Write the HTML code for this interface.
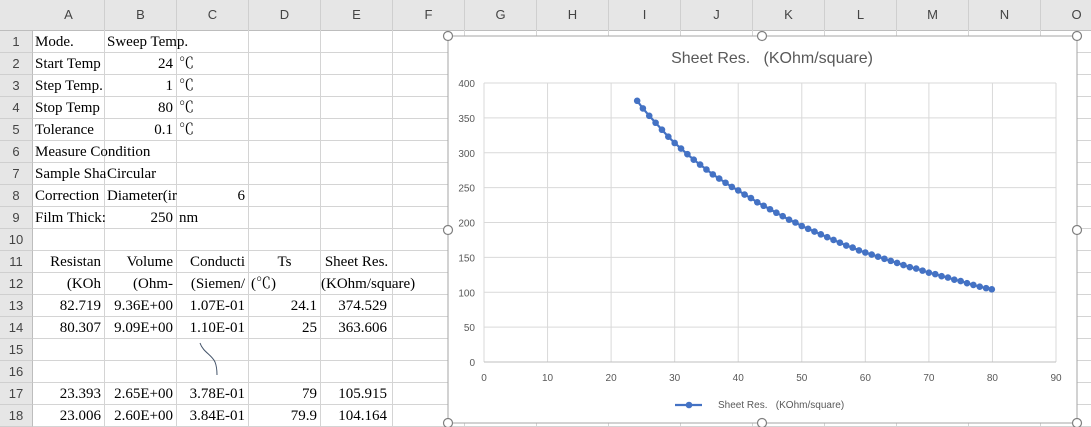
<!DOCTYPE html>
<html><head><meta charset="utf-8">
<style>
body{margin:0;width:1091px;height:427px;overflow:hidden;background:#fff;position:relative;font-family:"Liberation Serif","Noto Serif CJK SC",serif;}
.c{position:absolute;font-size:15px;color:#000;white-space:nowrap;line-height:22px;}
.h{position:absolute;background:#e6e6e6;font-family:"Liberation Sans",sans-serif;font-size:13px;color:#444;text-align:center;}
</style></head><body>
<div id="sheet"></div>
<svg id="chart" width="1091" height="427" style="position:absolute;left:0;top:0"></svg>
<script>
const temps=[24.1,25,26,27,28,29,30,31,32,33,34,35,36,37,38,39,40,41,42,43,44,45,46,47,48,49,50,51,52,53,54,55,56,57,58,59,60,61,62,63,64,65,66,67,68,69,70,71,72,73,74,75,76,77,78,79,79.9];
const sheetRes=[374.5,363.6,353,343,333,323,314,306,298,290,283,276,269,263,257,251,246,240,235,229,224,219,214,209,204,200,195,191,187,183,179,175,171,167,164,160,157,154,151,148,145,142,139,136,134,131,128,126,123,121,118,116,113,110.5,108,105.9,104.2];
const xTicks=[0,10,20,30,40,50,60,70,80,90];
const yTicks=[0,50,100,150,200,250,300,350,400];
const sh=document.getElementById('sheet');
const colL=[33,105,177,249,321,393,465,537,609,681,753,825,897,969,1041,1113];
const letters=['A','B','C','D','E','F','G','H','I','J','K','L','M','N','O'];
function rowTop(r){return 31+(r-1)*22;}
let hd=document.createElement('div');hd.className='h';hd.style.cssText='left:0;top:0;width:1091px;height:30px;border-bottom:1px solid #bdbdbd';


sh.appendChild(hd);
for(let i=0;i<letters.length;i++){const d=document.createElement('div');d.className='h';
d.style.cssText=`left:${colL[i]}px;top:0;width:${colL[i+1]-colL[i]-1}px;height:30px;line-height:30px;border-right:1px solid #cfcfcf`;
d.textContent=letters[i];


sh.appendChild(d);}
for(let r=1;r<=18;r++){const d=document.createElement('div');d.className='h';
d.style.cssText=`left:0;top:${rowTop(r)}px;width:32px;height:21px;line-height:22px;border-bottom:1px solid #cfcfcf;border-right:1px solid #bdbdbd`;
d.textContent=r;


sh.appendChild(d);}
for(let i=1;i<colL.length;i++){const g=document.createElement('div');g.style.cssText=`position:absolute;left:${colL[i]-1}px;top:30px;width:1px;height:397px;background:#d4d4d4`;


sh.appendChild(g);}
for(let r=1;r<=18;r++){const g=document.createElement('div');g.style.cssText=`position:absolute;left:33px;top:${rowTop(r)+21}px;width:1060px;height:1px;background:#d4d4d4`;


sh.appendChild(g);}
const cells=[
[1,0,'Mode.','l'],[1,1,'Sweep Temp.','l'],
[2,0,'Start Temp','l'],[2,1,'24','r'],[2,2,'℃','l'],
[3,0,'Step Temp.','l'],[3,1,'1','r'],[3,2,'℃','l'],
[4,0,'Stop Temp','l'],[4,1,'80','r'],[4,2,'℃','l'],
[5,0,'Tolerance','l'],[5,1,'0.1','r'],[5,2,'℃','l'],
[6,0,'Measure Condition','l'],
[7,0,'Sample Sha','l'],[7,1,'Circular','l'],
[8,0,'Correction','l'],[8,1,'Diameter(ir','l'],[8,2,'6','r'],
[9,0,'Film Thick:','l'],[9,1,'250','r'],[9,2,'nm','l'],
[11,0,'Resistan','r'],[11,1,'Volume','r'],[11,2,'Conducti','r'],[11,3,'Ts','m'],[11,4,'Sheet Res.','m'],
[12,0,'(KOh','r'],[12,1,'(Ohm-','r'],[12,2,'(Siemen/','r'],[12,3,'(℃)','l'],[12,4,'(KOhm/square)','m'],
[13,0,'82.719','r'],[13,1,'9.36E+00','r'],[13,2,'1.07E-01','r'],[13,3,'24.1','r'],[13,4,'374.529','r2'],
[14,0,'80.307','r'],[14,1,'9.09E+00','r'],[14,2,'1.10E-01','r'],[14,3,'25','r'],[14,4,'363.606','r2'],
[17,0,'23.393','r'],[17,1,'2.65E+00','r'],[17,2,'3.78E-01','r'],[17,3,'79','r'],[17,4,'105.915','r2'],
[18,0,'23.006','r'],[18,1,'2.60E+00','r'],[18,2,'3.84E-01','r'],[18,3,'79.9','r'],[18,4,'104.164','r2']];
cells.forEach(([r,c,t,a])=>{const d=document.createElement('div');d.className='c';
const L=colL[c],R=colL[c+1]-1,top=rowTop(r);
if(a==='l'){d.style.left=(L+2)+'px';}
else if(a==='r'){d.style.right=(1091-R+3)+'px';}
else if(a==='r2'){d.style.right=(1091-R+5)+'px';}
else {d.style.left=L+'px';d.style.width=(R-L)+'px';d.style.textAlign='center';}
d.style.top=top+'px';
d.textContent=t;


sh.appendChild(d);});
const NS='http://www.w3.org/2000/svg';const svg=document.getElementById('chart');
function el(tag,at,parent){const e=document.createElementNS(NS,tag);for(const k in at)e.setAttribute(k,at[k]);(parent||svg).appendChild(e);return e;}
const X0=484,X1=1056,Y0=362,Y1=83;
const sx=v=>X0+(v-0)/(90-0)*(X1-X0);
const sy=v=>Y0-(v-0)/(400-0)*(Y0-Y1);
const bg=el('rect',{x:448,y:36,width:629,height:387,fill:'#fff',stroke:'#a6a6a6','stroke-width':1});


const t=el('text',{x:772,y:63,'text-anchor':'middle','font-family':'Liberation Sans, sans-serif','font-size':16,fill:'#595959'});
t.textContent='Sheet Res.   (KOhm/square)';t.style.whiteSpace='pre';


xTicks.forEach(v=>{const g=el('line',{x1:sx(v),x2:sx(v),y1:Y1,y2:Y0,stroke:'#d9d9d9'});


const tx=el('text',{x:sx(v),y:Y0+19,'text-anchor':'middle','font-family':'Liberation Sans, sans-serif','font-size':10,fill:'#595959'});tx.textContent=v;

});
yTicks.forEach(v=>{const g=el('line',{x1:X0,x2:X1,y1:sy(v),y2:sy(v),stroke:v===0?'#bfbfbf':'#d9d9d9'});


const tx=el('text',{x:X0-9,y:sy(v)+4,'text-anchor':'end','font-family':'Liberation Sans, sans-serif','font-size':10,fill:'#595959'});tx.textContent=v;

});
const pl=el('polyline',{points:temps.map((x,i)=>sx(x)+','+sy(sheetRes[i])).join(' '),fill:'none',stroke:'#4472c4','stroke-width':2.2});


temps.forEach((x,i)=>{const c=el('circle',{cx:sx(x),cy:sy(sheetRes[i]),r:3.3,fill:'#4472c4'});

});
const lg=el('g',{});
el('line',{x1:675,x2:702,y1:405,y2:405,stroke:'#4472c4','stroke-width':2.2},lg);
el('circle',{cx:689,cy:405,r:3.3,fill:'#4472c4'},lg);
const lt=el('text',{x:718,y:408,'font-family':'Liberation Sans, sans-serif','font-size':10,fill:'#595959'},lg);
lt.textContent='Sheet Res.   (KOhm/square)';lt.style.whiteSpace='pre';
[[448,36],[762,36],[1077,36],[448,230],[1077,230],[448,423],[762,423],[1077,423]].forEach(([x,y])=>{const h=el('circle',{cx:x,cy:y,r:4.5,fill:'#fff',stroke:'#7f7f7f','stroke-width':1.2});

});
const sq=el('path',{d:'M200,343 C203,352 212,355 215,362 C217,367 217,371 217,375',fill:'none',stroke:'#44546a','stroke-width':1});


</script>
</body></html>
